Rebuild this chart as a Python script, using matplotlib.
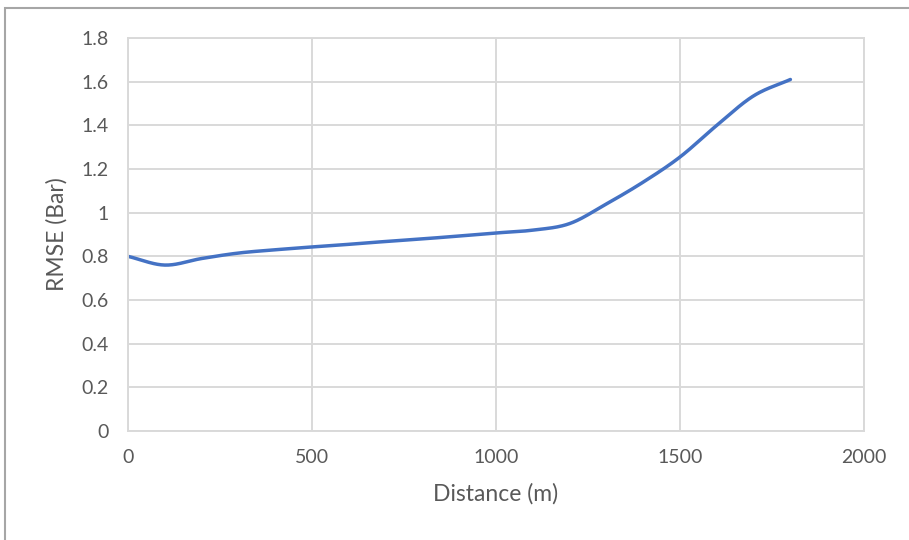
import numpy as np
import matplotlib
matplotlib.use("Agg")
import matplotlib.pyplot as plt
from matplotlib.patches import Rectangle

# RMSE along the pipeline
distance_m = [0, 100, 200, 300, 400, 500, 600, 700, 800, 900,
              1000, 1100, 1200, 1300, 1400, 1500, 1600, 1700, 1800]
rmse_bar = [0.80, 0.76, 0.79, 0.815, 0.83, 0.843, 0.855, 0.868, 0.88, 0.893,
            0.907, 0.92, 0.95, 1.04, 1.14, 1.255, 1.40, 1.535, 1.61]

x_ticks = [0, 500, 1000, 1500, 2000]
y_ticks = [0, 0.2, 0.4, 0.6, 0.8, 1.0, 1.2, 1.4, 1.6, 1.8]
y_tick_labels = ["0", "0.2", "0.4", "0.6", "0.8", "1", "1.2", "1.4", "1.6", "1.8"]


def smooth_curve(xs, ys, steps=30):
    """Catmull-Rom style smoothing through the given points."""
    xs = np.asarray(xs, float)
    ys = np.asarray(ys, float)
    px = np.concatenate([[2 * xs[0] - xs[1]], xs, [2 * xs[-1] - xs[-2]]])
    py = np.concatenate([[2 * ys[0] - ys[1]], ys, [2 * ys[-1] - ys[-2]]])
    out_x, out_y = [], []
    t = np.linspace(0, 1, steps, endpoint=False)
    for i in range(1, len(px) - 2):
        p0, p1, p2, p3 = (np.array([px[j], py[j]]) for j in (i - 1, i, i + 1, i + 2))
        b1 = p1 + (p2 - p0) / 6.0
        b2 = p2 - (p3 - p1) / 6.0
        pts = ((1 - t) ** 3)[:, None] * p1 + (3 * (1 - t) ** 2 * t)[:, None] * b1 \
            + (3 * (1 - t) * t ** 2)[:, None] * b2 + (t ** 3)[:, None] * p2
        out_x.extend(pts[:, 0])
        out_y.extend(pts[:, 1])
    out_x.append(xs[-1])
    out_y.append(ys[-1])
    return np.array(out_x), np.array(out_y)


plt.rcParams["font.family"] = ["Lato", "DejaVu Sans"]

W, H = 909, 540
fig = plt.figure(figsize=(W / 100, H / 100), dpi=100)
fig.patch.set_facecolor("white")

# chart-area border
fig.add_artist(Rectangle((5 / W, -0.1), 1.2, 1 - 8 / H + 0.1,
                         transform=fig.transFigure, fill=False,
                         edgecolor="#a6a6a6", linewidth=1.5))

ax = fig.add_axes([128 / W, 1 - 431 / H, (864 - 128) / W, (431 - 38) / H])
grid_c = "#d9d9d9"
ax.set_xlim(0, 2000)
ax.set_ylim(0, 1.8)
ax.set_xticks(x_ticks)
ax.set_yticks(y_ticks)
ax.set_yticklabels(y_tick_labels)
ax.grid(True, color=grid_c, linewidth=1.4)
ax.set_axisbelow(True)
for s in ax.spines.values():
    s.set_color(grid_c)
    s.set_linewidth(1.4)
ax.tick_params(length=0, labelsize=14, labelcolor="#595959")
ax.tick_params(axis="y", pad=14)
ax.tick_params(axis="x", pad=13)

sx, sy = smooth_curve(distance_m, rmse_bar)
ax.plot(sx, sy, color="#4472C4", linewidth=2.5, solid_capstyle="round")

ax.set_xlabel("Distance (m)", fontsize=16.5, color="#595959", labelpad=12)
ax.set_ylabel("RMSE (Bar)", fontsize=16.5, color="#595959", labelpad=10)

fig.savefig("out.png", dpi=100)
